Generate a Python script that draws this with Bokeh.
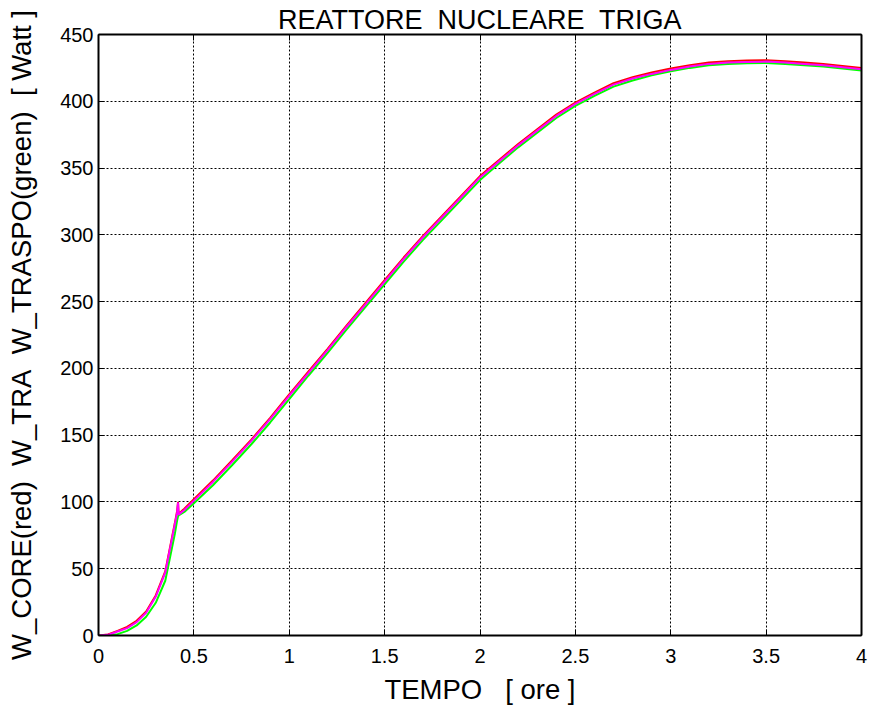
from bokeh.plotting import figure
from bokeh.models import LinearAxis, FixedTicker, Range1d, CustomJSTickFormatter, Title
from bokeh.embed import file_html
from bokeh.resources import INLINE

# ---- data ----
tempo = [0, 0.05, 0.1, 0.15, 0.2, 0.25, 0.3, 0.35, 0.4, 0.412, 0.417, 0.42, 0.45,
         0.5, 0.6, 0.7, 0.8, 0.9, 1.0, 1.1, 1.2, 1.3, 1.4, 1.5, 1.6, 1.7, 1.8, 1.9,
         2.0, 2.1, 2.2, 2.3, 2.4, 2.5, 2.6, 2.7, 2.8, 2.9, 3.0, 3.1, 3.2, 3.3, 3.4,
         3.5, 3.6, 3.7, 3.8, 3.9, 4.0]

w_core = [0, 0.8, 3.5, 6.5, 11, 18, 30, 48, 84, 93, 100, 91, 95,
          102, 116, 131, 146.5, 163, 180.5, 197.5, 214.5, 232, 249, 266, 283, 299, 314, 329,
          344, 356, 368, 379, 390, 399, 406.5, 413.5, 418, 421.5, 424.5, 427, 429, 430, 430.5,
          430.7, 430, 429, 428, 426.5, 425]

w_tra = [0, 0.5, 3, 5.5, 10, 17, 29, 47, 83, 92, 99.5, 90.5, 94,
         101, 115, 130, 145.5, 162, 179.5, 196.5, 213.5, 231, 248, 265, 282, 298, 313, 328,
         343, 355, 367, 378, 389, 398, 405.5, 412.5, 417, 420.5, 423.5, 426, 428, 429, 429.5,
         429.7, 429, 428, 427, 425.5, 424]

w_traspo = [0, 0, 1, 3.5, 7.5, 14, 24.5, 41, 76, 86, 89, 90, 92.5,
            99, 112.5, 127.5, 143, 159.5, 177, 194.5, 211.5, 229, 246, 263, 280, 296, 311, 326,
            341, 353.5, 365.5, 376.5, 387.5, 396.5, 404, 411, 415.5, 419.5, 422.5, 425, 427, 428, 428.5,
            428.7, 428, 427, 426, 424.5, 423]

x_ticks = [0, 0.5, 1, 1.5, 2, 2.5, 3, 3.5, 4]
x_tick_labels = ["0", "0.5", "1", "1.5", "2", "2.5", "3", "3.5", "4"]
y_ticks = [0, 50, 100, 150, 200, 250, 300, 350, 400, 450]
y_tick_labels = ["0", "50", "100", "150", "200", "250", "300", "350", "400", "450"]

title_text = "REATTORE\u00a0 NUCLEARE\u00a0 TRIGA"
x_label = "TEMPO\u00a0\u00a0 [ ore ]"
y_label = "W_CORE(red)\u00a0 W_TRA\u00a0 W_TRASPO(green)\u00a0 [ Watt ]"

FONT = "Liberation Sans"

p = figure(width=875, height=708, x_range=Range1d(0, 4), y_range=Range1d(0, 450),
           output_backend="svg", toolbar_location=None,
           min_border_left=98, min_border_right=14, min_border_top=34, min_border_bottom=73)
p.background_fill_color = "white"
p.border_fill_color = "white"
p.outline_line_color = None

p.title = Title(text=title_text, align="center", text_font=FONT, text_font_size="27px",
                text_font_style="normal", text_color="black", standoff=0, offset=0)

xt = FixedTicker(ticks=x_ticks)
yt = FixedTicker(ticks=y_ticks)

p.xaxis.ticker = xt
p.yaxis.ticker = yt
p.xgrid.ticker = xt
p.ygrid.ticker = yt
p.xaxis.major_label_overrides = dict(zip(x_ticks, x_tick_labels))
p.yaxis.major_label_overrides = dict(zip(y_ticks, y_tick_labels))

for ax in (p.xaxis[0], p.yaxis[0]):
    ax.axis_line_color = "black"
    ax.axis_line_width = 2
    ax.major_tick_in = 6
    ax.major_tick_out = 0
    ax.major_tick_line_color = "black"
    ax.major_tick_line_width = 1
    ax.minor_tick_line_color = None
    ax.major_label_text_font = FONT
    ax.major_label_text_font_size = "20px"
    ax.major_label_text_color = "black"
    ax.axis_label_text_font = FONT
    ax.axis_label_text_font_size = "27.5px"
    ax.axis_label_text_font_style = "normal"
    ax.axis_label_text_color = "black"

p.xaxis.major_label_standoff = 13
p.xaxis.axis_label_standoff = 8
p.xaxis.axis_label = x_label
p.yaxis.major_label_standoff = 5
p.yaxis.axis_label_standoff = 20
p.yaxis.axis_label = y_label

blank = CustomJSTickFormatter(code="return ''")
top_ax = LinearAxis(ticker=xt, formatter=blank, major_tick_in=6, major_tick_out=0,
                    axis_line_width=2, minor_tick_line_color=None, major_label_standoff=0,
                    major_label_text_font_size="1px")
right_ax = LinearAxis(ticker=yt, formatter=blank, major_tick_in=6, major_tick_out=0,
                      axis_line_width=2, minor_tick_line_color=None, major_label_standoff=0)
p.add_layout(top_ax, "above")
p.add_layout(right_ax, "right")

p.grid.grid_line_color = "black"
p.grid.grid_line_dash = "2 2"
p.grid.grid_line_width = 1
p.grid.grid_line_alpha = 1.0

p.line(tempo, w_core, line_color="#ff0000", line_width=2)
p.line(tempo, w_traspo, line_color="#00ff00", line_width=2)
p.line(tempo, w_tra, line_color="#ff00ff", line_width=2)

open("out.html", "w").write(file_html(p, INLINE))
